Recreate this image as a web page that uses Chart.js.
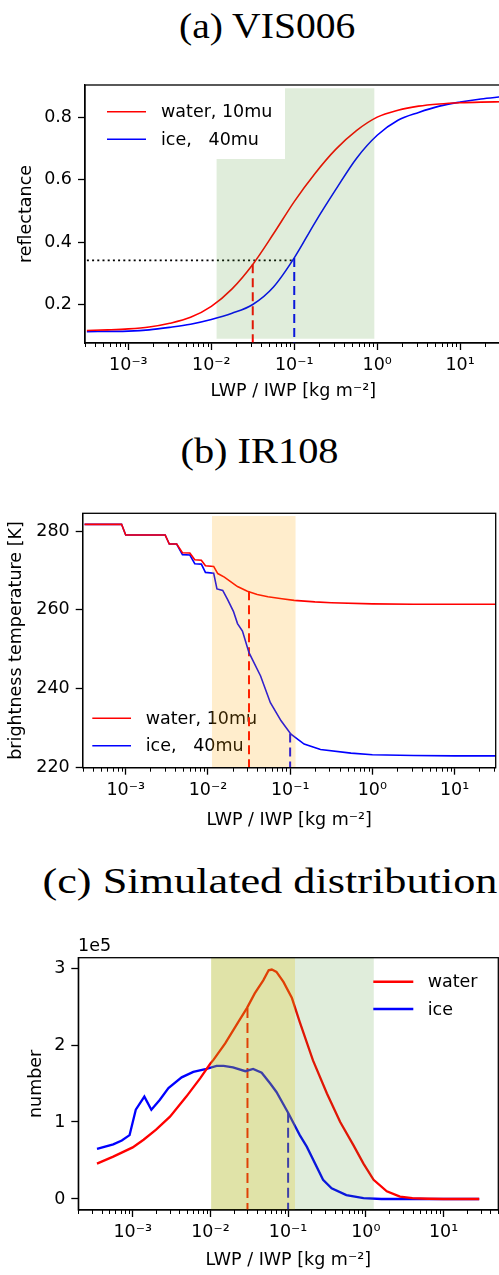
<!DOCTYPE html>
<html><head><meta charset="utf-8">
<script src="https://cdn.jsdelivr.net/npm/chart.js@4.4.1/dist/chart.umd.min.js"></script>
<style>
html,body{margin:0;padding:0;background:#fff;width:499px;height:1275px;overflow:hidden;position:relative}
.ttl{position:absolute;font-family:"Liberation Serif","DejaVu Serif",serif;font-size:36px;color:#000;white-space:nowrap;line-height:1;transform-origin:center center}
canvas{position:absolute;left:0}
</style></head><body>
<div class="ttl" id="ta" data-cx="267" data-cy="26" data-w="176">(a) VIS006</div>
<div class="ttl" id="tb" data-cx="259" data-cy="451" data-w="158">(b) IR108</div>
<div class="ttl" id="tc" data-cx="270" data-cy="881" data-w="455">(c) Simulated distribution</div>
<canvas id="ca" width="510" height="360" style="top:60px"></canvas>
<canvas id="cb" width="499" height="360" style="top:480px"></canvas>
<canvas id="cc" width="499" height="375" style="top:900px"></canvas>
<script>
// ---------- shared tick labels ----------
const xMajorTicks = [0.001, 0.01, 0.1, 1, 10];
const xAxisLabel = 'LWP / IWP [kg m\u207B\u00B2]';

// ---------- (a) VIS006 ----------
const lwpA = [0.000316,0.000562,0.001,0.00178,0.00316,0.00562,0.01,0.0178,0.0316,0.0562,0.1,0.178,0.316,0.562,1,1.78,3.16,5.62,10,17.8,31.6];
const reflWaterA = [0.118,0.120,0.123,0.129,0.141,0.160,0.195,0.251,0.329,0.427,0.530,0.620,0.697,0.757,0.800,0.822,0.835,0.842,0.846,0.848,0.849];
const reflIceA   = [0.114,0.115,0.116,0.120,0.128,0.138,0.153,0.173,0.201,0.257,0.350,0.463,0.568,0.668,0.742,0.790,0.815,0.835,0.848,0.858,0.865];
const yTicksA = [0.2, 0.4, 0.6, 0.8];
const threshA = 0.342, lwpThrWaterA = 0.0316, lwpThrIceA = 0.1;
const spanA = [0.0115, 0.93], spanAy = [0.0915, 0.892];

// ---------- (b) IR108 ----------
const lwpWaterB = [0.000316,0.000891,0.001,0.00302,0.00339,0.00417,0.0049,0.00603,0.00692,0.00832,0.00933,0.01175,0.01318,0.01585,0.01905,0.0229,0.0302,0.0398,0.0537,0.0794,0.112,0.2,0.316,1,3.16,10,31.6];
const btWaterB  = [281.7,281.7,279.0,279.0,276.7,276.7,274.5,274.4,272.7,272.6,271.2,271.0,269.2,268.3,267.1,265.9,264.7,263.9,263.3,262.8,262.4,262.0,261.8,261.5,261.4,261.4,261.4];
const lwpIceB = [0.000316,0.000891,0.001,0.00302,0.00339,0.00417,0.0049,0.00603,0.00692,0.00832,0.00933,0.01175,0.01288,0.01514,0.01738,0.02042,0.0229,0.0263,0.0316,0.0437,0.0575,0.0776,0.1023,0.148,0.234,0.55,1,3.16,10,31.6];
const btIceB  = [281.7,281.7,279.0,279.0,276.7,276.7,274.0,273.9,271.7,271.6,269.5,269.3,265.3,264.9,262.6,259.6,256.5,254.6,249.1,243.2,236.4,231.8,228.4,225.9,224.5,223.6,223.2,223.0,222.9,222.9];
const yTicksB = [220, 240, 260, 280];
const lwpThrWaterB = 0.0316, btThrWaterB = 264.7, lwpThrIceB = 0.1, btThrIceB = 228.6;
const spanB = [0.0112, 0.117], spanBy = [219.9, 283.8];

// ---------- (c) Simulated distribution ----------
const lwpWaterC = [0.000347,0.000562,0.001,0.00138,0.002,0.00302,0.0049,0.00741,0.01,0.011,0.0155,0.0229,0.0295,0.0372,0.0479,0.0562,0.0617,0.0708,0.0871,0.112,0.141,0.209,0.316,0.468,0.692,0.933,1.259,1.862,2.754,3.98,6.31,10,28.8];
const numWaterC = [46000,55000,67000,77000,90000,107000,133000,157000,176000,181000,202000,230000,248000,267000,284000,297000,298000,295000,282000,261000,230000,180000,137000,100000,70000,46000,25000,10000,3000,1000,300,0,0];
const lwpIceC = [0.000347,0.000562,0.000724,0.000912,0.001096,0.001413,0.001738,0.002239,0.002884,0.004266,0.006026,0.008913,0.01202,0.01479,0.0195,0.02818,0.03548,0.04571,0.05888,0.07079,0.1,0.1413,0.1738,0.2818,0.3631,0.5623,0.9333,1.585,3.981,10,28.8];
const numIceC = [65000,71000,76000,83000,116000,133000,116000,129000,144000,158000,165000,169000,173000,173000,171000,166000,169000,164000,150000,139000,112000,83000,68000,25000,14000,5000,1000,0,0,0,0];
const yTicksC = [0, 100000, 200000, 300000];
const lwpThrWaterC = 0.03, numThrWaterC = 248000, lwpThrIceC = 0.1, numThrIceC = 112000;
const spanOrangeC = [0.0102, 0.123], spanGreenC = [0.0102, 1.27];

// ---------- helpers ----------
const FONT = 'DejaVu Sans';
const FS = 17.5;
const GREEN = 'rgba(60,140,30,0.16)';
const ORANGE = 'rgba(255,165,0,0.2)';
const ORANGE_C = 'rgba(255,205,0,0.24)';
const SUP = {'-':'\u207B','0':'\u2070','1':'\u00B9','2':'\u00B2','3':'\u00B3','4':'\u2074','5':'\u2075','6':'\u2076','7':'\u2077','8':'\u2078','9':'\u2079'};
function logLabel(v){ const n = Math.round(Math.log10(v)); return '10' + String(n).split('').map(c=>SUP[c]).join(''); }
const zip = (xs, ys) => xs.map((x,i)=>({x:x, y:ys[i]}));
function line(xs, ys, color, width, extra){ return Object.assign({data:zip(xs,ys), borderColor:color, borderWidth:width, pointRadius:0, fill:false, tension:0, order:3}, extra||{}); }
function vline(x, y0, y1, color, width, dash){ return {data:[{x:x,y:y0},{x:x,y:y1}], borderColor:color, borderWidth:width, borderDash:dash, pointRadius:0, fill:false, order:3}; }
function span(x0, x1, y0, y1, color, ord){ return {data:[{x:x0,y:y1},{x:x1,y:y1}], borderWidth:0, borderColor:'rgba(0,0,0,0)', backgroundColor:color, pointRadius:0, fill:{value:y0}, order:ord}; }

function drawLegend(chart, L){
  const ctx = chart.ctx; ctx.save();
  if (L.bg){ ctx.fillStyle = '#fff'; ctx.fillRect(L.bg[0], L.bg[1], L.bg[2], L.bg[3]); }
  ctx.font = FS + 'px "' + FONT + '"'; ctx.textBaseline = 'middle'; ctx.textAlign = 'left';
  L.items.forEach((it, i) => {
    const y = L.y + i*L.dy;
    ctx.strokeStyle = it.color; ctx.lineWidth = L.lw; ctx.setLineDash([]);
    ctx.beginPath(); ctx.moveTo(L.x1, y); ctx.lineTo(L.x2, y); ctx.stroke();
    ctx.fillStyle = '#000'; ctx.fillText(it.label, L.tx, y + 1);
  });
  ctx.restore();
}
const decor = {
  id: 'decor',
  beforeDatasetsDraw(chart, args, o){ if (o.legend && o.legend.before) drawLegend(chart, o.legend); },
  afterDraw(chart, args, o){
    const ctx = chart.ctx, a = chart.chartArea, xs = chart.scales.x;
    if (o.legend && !o.legend.before) drawLegend(chart, o.legend);
    ctx.save();
    ctx.strokeStyle = '#000'; ctx.lineWidth = 1; ctx.setLineDash([]);
    for (let d = -5; d <= 2; d++) for (let k = 2; k <= 9; k++){
      const v = k * Math.pow(10, d);
      if (v < xs.min || v > xs.max) continue;
      const px = Math.round(xs.getPixelForValue(v)) + 0.5;
      ctx.beginPath(); ctx.moveTo(px, a.bottom); ctx.lineTo(px, a.bottom + 4); ctx.stroke();
    }
    ctx.lineWidth = 1.3; ctx.strokeRect(a.left, a.top, a.right - a.left, a.bottom - a.top);
    if (o.offsetText){ ctx.fillStyle = '#000'; ctx.font = FS + 'px "' + FONT + '"'; ctx.textBaseline = 'middle'; ctx.fillText(o.offsetText.text, o.offsetText.x, o.offsetText.y); }
    ctx.restore();
  }
};

function xScale(min, max, h, pad){
  return { type:'logarithmic', position:'bottom', min:min, max:max,
    afterBuildTicks: s => { s.ticks = xMajorTicks.map(v => ({value:v, major:true})); },
    afterFit: s => { s.height = h; },
    ticks:{ autoSkip:false, maxRotation:0, minRotation:0, padding:pad, color:'#000', font:{family:FONT, size:FS}, callback: v => logLabel(v) },
    grid:{ drawOnChartArea:false, drawTicks:true, tickLength:7, tickWidth:1.3, tickColor:'#000' },
    border:{ display:true, color:'#000', width:1.3 },
    title:{ display:true, text:xAxisLabel, color:'#000', font:{family:FONT, size:FS}, padding:{top:0, bottom:0} } };
}
function yScale(min, max, w, ticks, label, fmt){
  return { type:'linear', position:'left', min:min, max:max,
    afterBuildTicks: s => { s.ticks = ticks.map(v => ({value:v})); },
    afterFit: s => { s.width = w; },
    ticks:{ padding:6, color:'#000', font:{family:FONT, size:FS}, callback: fmt },
    grid:{ drawOnChartArea:false, drawTicks:true, tickLength:7, tickWidth:1.3, tickColor:'#000' },
    border:{ display:true, color:'#000', width:1.3 },
    title:{ display:true, text:label, color:'#000', font:{family:FONT, size:FS}, padding:{top:0, bottom:0} } };
}
function baseOpts(pad, scales, decorOpts){
  return { responsive:false, animation:false, events:[], layout:{padding:pad},
    scales: scales, plugins:{ legend:{display:false}, tooltip:{enabled:false}, decor: decorOpts } };
}

// ---------- chart (a) ----------
new Chart(document.getElementById('ca'), {
  type:'line',
  data:{ datasets:[
    line(lwpA, reflWaterA, '#ff0000', 1.6, {cubicInterpolationMode:'monotone'}),
    line(lwpA, reflIceA, '#0000ff', 1.6, {cubicInterpolationMode:'monotone'}),
    {data:[{x:Math.pow(10,-3.5), y:threshA},{x:lwpThrIceA, y:threshA}], borderColor:'#000', borderWidth:1.8, borderDash:[2,3.2], pointRadius:0, fill:false, order:3},
    vline(lwpThrWaterA, 0.33, 0.078, '#ff0000', 2, [9,5]),
    vline(lwpThrIceA, threshA + 0.008, 0.078, '#0000ff', 2, [9,5]),
    span(spanA[0], spanA[1], spanAy[0], spanAy[1], GREEN, 0)
  ]},
  options: baseOpts({left:16.2, right:8.4, top:25, bottom:17.8},
    { x: xScale(Math.pow(10,-3.5), Math.pow(10,1.5), 59.2, 5),
      y: yScale(0.078, 0.9026, 68.8, yTicksA, 'reflectance', v => v.toFixed(1)) },
    { legend:{ bg:[87, 26, 198, 73], x1:107, x2:146, tx:161, y:51.7, dy:27.6, lw:1.6,
      items:[{label:'water, 10mu', color:'#ff0000'},{label:'ice,   40mu', color:'#0000ff'}] } }),
  plugins:[decor]
});

// ---------- chart (b) ----------
new Chart(document.getElementById('cb'), {
  type:'line',
  data:{ datasets:[
    line(lwpWaterB, btWaterB, '#ff0000', 1.6),
    line(lwpIceB, btIceB, '#0000ff', 1.6),
    vline(lwpThrWaterB, btThrWaterB, 219.9, '#ff0000', 2, [9,5]),
    vline(lwpThrIceB, btThrIceB, 219.9, '#0000ff', 2, [9,5]),
    span(spanB[0], spanB[1], spanBy[0], spanBy[1], ORANGE, 0)
  ]},
  options: baseOpts({left:6.2, right:3.3, top:33.3, bottom:9.5},
    { x: xScale(Math.pow(10,-3.5), Math.pow(10,1.5), 62.8, 5),
      y: yScale(219.9, 284.5, 76.5, yTicksB, 'brightness temperature [K]', v => String(v)) },
    { legend:{ before:true, x1:92.3, x2:131, tx:145.7, y:238.3, dy:27.4, lw:1.6,
      items:[{label:'water, 10mu', color:'#ff0000'},{label:'ice,   40mu', color:'#0000ff'}] } }),
  plugins:[decor]
});

// ---------- chart (c) ----------
new Chart(document.getElementById('cc'), {
  type:'line',
  data:{ datasets:[
    line(lwpWaterC, numWaterC, '#ff0000', 2.3),
    line(lwpIceC, numIceC, '#0000ff', 2.3),
    vline(lwpThrWaterC, numThrWaterC, -14300, '#ff0000', 2, [10,5]),
    vline(lwpThrIceC, numThrIceC, -14300, '#0000ff', 2, [10,5]),
    span(spanOrangeC[0], spanOrangeC[1], -14300, 313400, ORANGE_C, 1),
    span(spanGreenC[0], spanGreenC[1], -14300, 313400, GREEN, 0)
  ]},
  options: baseOpts({left:25.5, right:0.7, top:57.7, bottom:4.5},
    { x: xScale(Math.pow(10,-3.70), Math.pow(10,1.705), 60.5, 5),
      y: yScale(-14300, 313400, 52.8, yTicksC, 'number', v => String(Math.round(v/1e5))) },
    { offsetText:{text:'1e5', x:78, y:46.7},
      legend:{ x1:373.3, x2:413.3, tx:427.7, y:81.7, dy:27.3, lw:2.6,
      items:[{label:'water', color:'#ff0000'},{label:'ice', color:'#0000ff'}] } }),
  plugins:[decor]
});

// ---------- titles ----------
document.querySelectorAll('.ttl').forEach(el => {
  const w = el.offsetWidth, h = el.offsetHeight;
  const k = parseFloat(el.dataset.w) / w;
  el.style.left = (parseFloat(el.dataset.cx) - w/2) + 'px';
  el.style.top = (parseFloat(el.dataset.cy) - h/2) + 'px';
  el.style.transform = 'scaleX(' + k.toFixed(3) + ')';
});
</script>
</body></html>
